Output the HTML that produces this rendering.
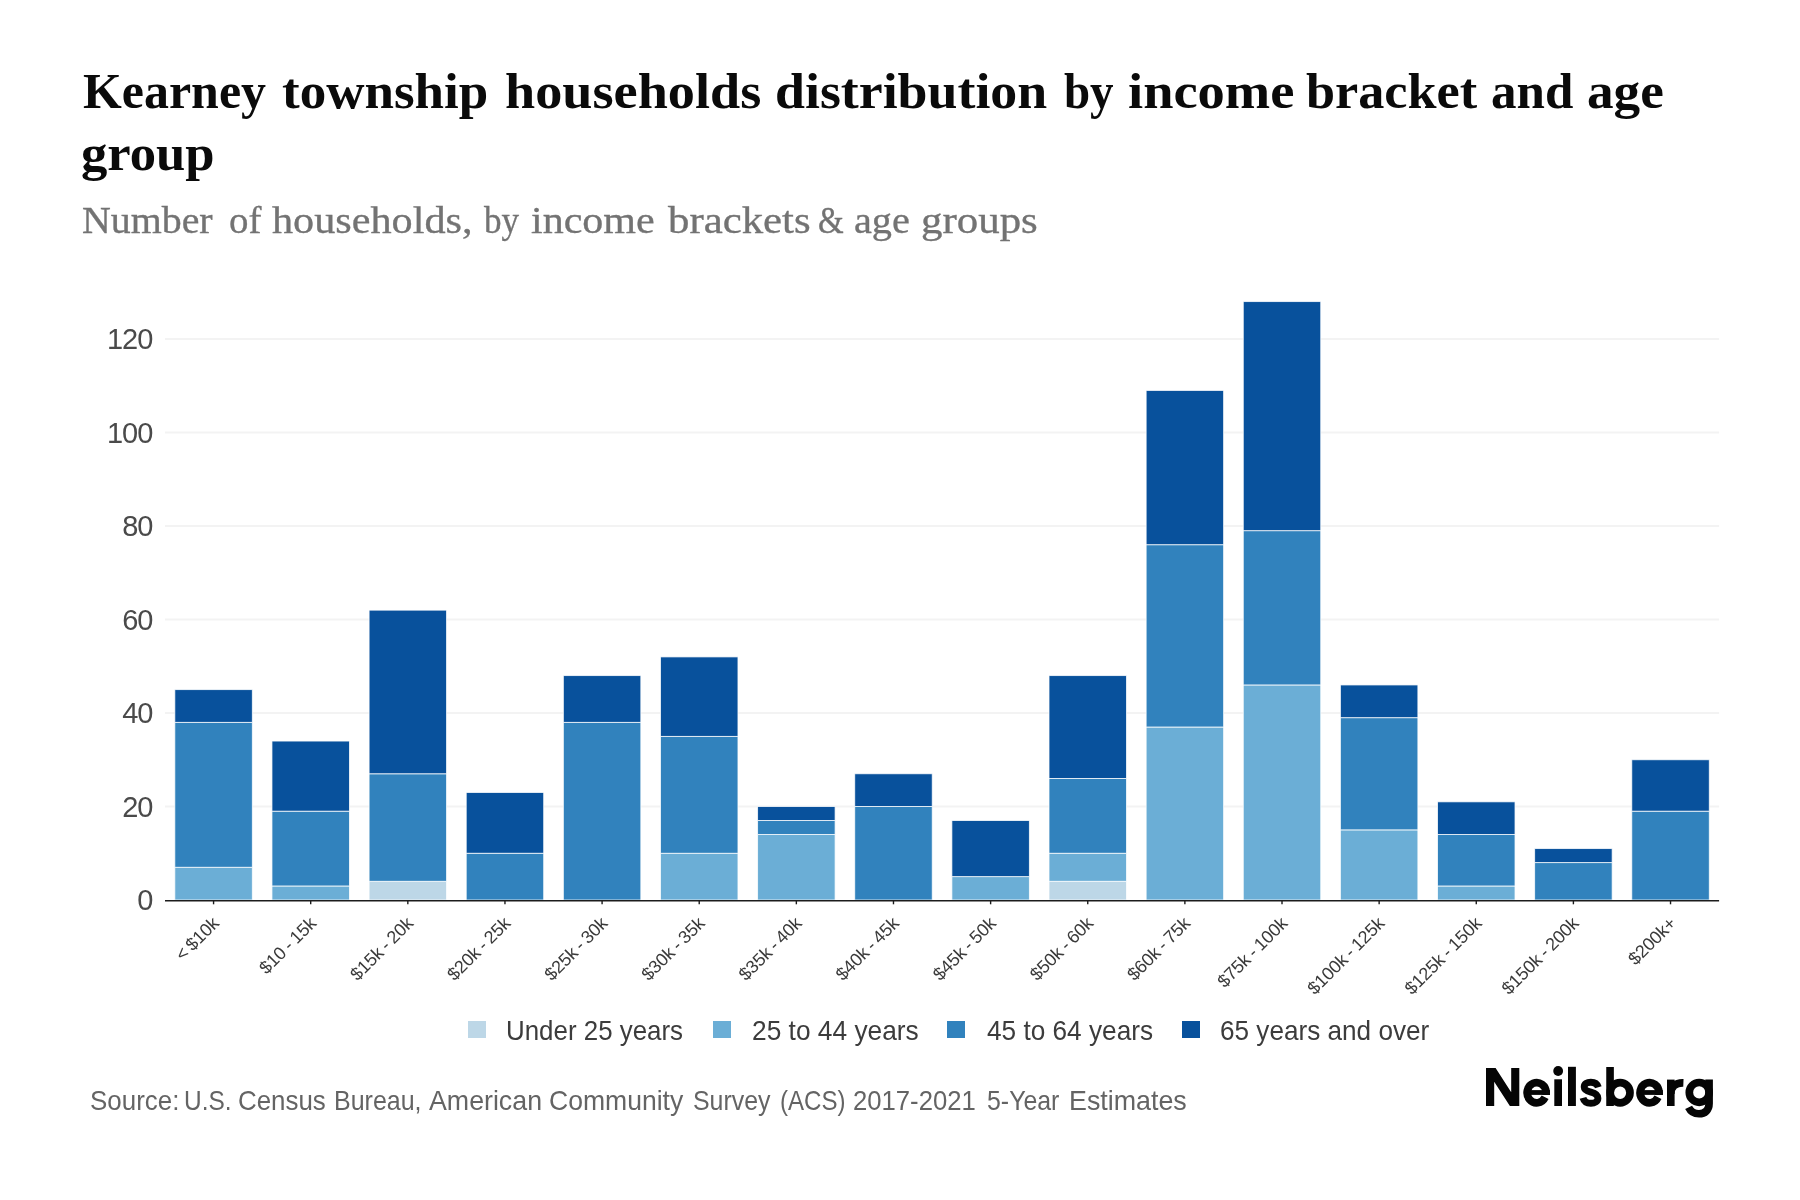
<!DOCTYPE html>
<html lang="en">
<head>
<meta charset="utf-8">
<title>Kearney township households distribution by income bracket and age group</title>
<style>
html,body{margin:0;padding:0;background:#fff;}
body{width:1800px;height:1200px;position:relative;overflow:hidden;font-family:"Liberation Sans",sans-serif;}
.title{position:absolute;left:0;top:0;margin:0;width:1800px;height:190px;font-family:"Liberation Serif",serif;font-weight:700;font-size:51px;line-height:62px;color:#0a0a0a;}
.sub{position:absolute;left:0;top:0;margin:0;width:1800px;height:260px;font-family:"Liberation Serif",serif;font-weight:400;font-size:38px;line-height:48px;color:#737373;-webkit-text-stroke:0.35px #737373;}
.w{position:absolute;white-space:nowrap;transform-origin:0 0;display:block;}
svg{position:absolute;left:0;top:0;will-change:transform;}
.title,.sub,.legend,.legtxt,.src,.logo{will-change:transform;}
.yl{font-family:"Liberation Sans",sans-serif;font-size:29px;fill:#4a4a4a;letter-spacing:-1.1px;}
.xl{font-family:"Liberation Sans",sans-serif;font-size:18px;fill:#3a3a3a;word-spacing:-1.2px;letter-spacing:-0.12px;}
.legend{position:absolute;left:0;top:1012px;width:1800px;height:36px;}
.legend .sw{position:absolute;top:9px;width:18px;height:17px;}
.src{position:absolute;left:0;top:0;width:1800px;height:1200px;font-size:28px;line-height:36px;color:#646464;}
.legtxt{position:absolute;left:0;top:0;width:1800px;height:1200px;font-size:28px;line-height:36px;color:#3c3c3c;}
.logo{position:absolute;left:1483px;top:1058px;font-weight:700;font-size:50.5px;line-height:60px;letter-spacing:0.4px;color:transparent;white-space:nowrap;}
</style>
</head>
<body>
<h1 class="title"><span class="w" style="left:82.52px;top:59.9px;transform:scaleX(0.9790)">Kearney</span> <span class="w" style="left:282.47px;top:59.9px;transform:scaleX(1.0391)">township</span> <span class="w" style="left:505.40px;top:59.9px;transform:scaleX(1.0635)">households</span> <span class="w" style="left:775.39px;top:59.9px;transform:scaleX(1.0555)">distribution</span> <span class="w" style="left:1064.08px;top:59.9px;transform:scaleX(0.9206)">by</span> <span class="w" style="left:1127.95px;top:59.9px;transform:scaleX(1.0680)">income</span> <span class="w" style="left:1306.48px;top:59.9px;transform:scaleX(1.0244)">bracket</span> <span class="w" style="left:1491.49px;top:59.9px;transform:scaleX(1.0005)">and</span> <span class="w" style="left:1587.41px;top:59.9px;transform:scaleX(1.0434)">age</span> <span class="w" style="left:81.48px;top:121.9px;transform:scaleX(1.0324)">group</span></h1>
<p class="sub"><span class="w" style="left:81.95px;top:196.2px;transform:scaleX(1.0488)">Number</span> <span class="w" style="left:228.88px;top:196.2px;transform:scaleX(1.0232)">of</span> <span class="w" style="left:271.91px;top:196.2px;transform:scaleX(1.1108)">households,</span> <span class="w" style="left:483.53px;top:196.2px;transform:scaleX(0.9232)">by</span> <span class="w" style="left:530.92px;top:196.2px;transform:scaleX(1.1055)">income</span> <span class="w" style="left:667.51px;top:196.2px;transform:scaleX(1.1270)">brackets</span> <span class="w" style="left:818.19px;top:196.2px;transform:scaleX(0.8678)">&amp;</span> <span class="w" style="left:853.74px;top:196.2px;transform:scaleX(1.0597)">age</span> <span class="w" style="left:920.85px;top:196.2px;transform:scaleX(1.1290)">groups</span></p>
<svg width="1800" height="1200" viewBox="0 0 1800 1200">
<line x1="165.0" x2="1719.1" y1="806.50" y2="806.50" stroke="#f3f3f3" stroke-width="2"/>
<line x1="165.0" x2="1719.1" y1="713.00" y2="713.00" stroke="#f3f3f3" stroke-width="2"/>
<line x1="165.0" x2="1719.1" y1="619.50" y2="619.50" stroke="#f3f3f3" stroke-width="2"/>
<line x1="165.0" x2="1719.1" y1="526.00" y2="526.00" stroke="#f3f3f3" stroke-width="2"/>
<line x1="165.0" x2="1719.1" y1="432.50" y2="432.50" stroke="#f3f3f3" stroke-width="2"/>
<line x1="165.0" x2="1719.1" y1="339.00" y2="339.00" stroke="#f3f3f3" stroke-width="2"/>
<rect x="174.82" y="867.27" width="77.5" height="32.73" fill="#6baed6" stroke="#ffffff" stroke-opacity="0.85" stroke-width="0.9"/>
<rect x="174.82" y="722.35" width="77.5" height="144.92" fill="#3182bd" stroke="#ffffff" stroke-opacity="0.85" stroke-width="0.9"/>
<rect x="174.82" y="689.62" width="77.5" height="32.73" fill="#08519c" stroke="#ffffff" stroke-opacity="0.85" stroke-width="0.9"/>
<rect x="271.95" y="885.98" width="77.5" height="14.02" fill="#6baed6" stroke="#ffffff" stroke-opacity="0.85" stroke-width="0.9"/>
<rect x="271.95" y="811.17" width="77.5" height="74.80" fill="#3182bd" stroke="#ffffff" stroke-opacity="0.85" stroke-width="0.9"/>
<rect x="271.95" y="741.05" width="77.5" height="70.12" fill="#08519c" stroke="#ffffff" stroke-opacity="0.85" stroke-width="0.9"/>
<rect x="369.08" y="881.30" width="77.5" height="18.70" fill="#bdd7e7" stroke="#ffffff" stroke-opacity="0.85" stroke-width="0.9"/>
<rect x="369.08" y="773.77" width="77.5" height="107.52" fill="#3182bd" stroke="#ffffff" stroke-opacity="0.85" stroke-width="0.9"/>
<rect x="369.08" y="610.15" width="77.5" height="163.62" fill="#08519c" stroke="#ffffff" stroke-opacity="0.85" stroke-width="0.9"/>
<rect x="466.21" y="853.25" width="77.5" height="46.75" fill="#3182bd" stroke="#ffffff" stroke-opacity="0.85" stroke-width="0.9"/>
<rect x="466.21" y="792.48" width="77.5" height="60.77" fill="#08519c" stroke="#ffffff" stroke-opacity="0.85" stroke-width="0.9"/>
<rect x="563.34" y="722.35" width="77.5" height="177.65" fill="#3182bd" stroke="#ffffff" stroke-opacity="0.85" stroke-width="0.9"/>
<rect x="563.34" y="675.60" width="77.5" height="46.75" fill="#08519c" stroke="#ffffff" stroke-opacity="0.85" stroke-width="0.9"/>
<rect x="660.47" y="853.25" width="77.5" height="46.75" fill="#6baed6" stroke="#ffffff" stroke-opacity="0.85" stroke-width="0.9"/>
<rect x="660.47" y="736.38" width="77.5" height="116.88" fill="#3182bd" stroke="#ffffff" stroke-opacity="0.85" stroke-width="0.9"/>
<rect x="660.47" y="656.90" width="77.5" height="79.48" fill="#08519c" stroke="#ffffff" stroke-opacity="0.85" stroke-width="0.9"/>
<rect x="757.60" y="834.55" width="77.5" height="65.45" fill="#6baed6" stroke="#ffffff" stroke-opacity="0.85" stroke-width="0.9"/>
<rect x="757.60" y="820.52" width="77.5" height="14.02" fill="#3182bd" stroke="#ffffff" stroke-opacity="0.85" stroke-width="0.9"/>
<rect x="757.60" y="806.50" width="77.5" height="14.02" fill="#08519c" stroke="#ffffff" stroke-opacity="0.85" stroke-width="0.9"/>
<rect x="854.73" y="806.50" width="77.5" height="93.50" fill="#3182bd" stroke="#ffffff" stroke-opacity="0.85" stroke-width="0.9"/>
<rect x="854.73" y="773.77" width="77.5" height="32.73" fill="#08519c" stroke="#ffffff" stroke-opacity="0.85" stroke-width="0.9"/>
<rect x="951.87" y="876.62" width="77.5" height="23.38" fill="#6baed6" stroke="#ffffff" stroke-opacity="0.85" stroke-width="0.9"/>
<rect x="951.87" y="820.52" width="77.5" height="56.10" fill="#08519c" stroke="#ffffff" stroke-opacity="0.85" stroke-width="0.9"/>
<rect x="1049.00" y="881.30" width="77.5" height="18.70" fill="#bdd7e7" stroke="#ffffff" stroke-opacity="0.85" stroke-width="0.9"/>
<rect x="1049.00" y="853.25" width="77.5" height="28.05" fill="#6baed6" stroke="#ffffff" stroke-opacity="0.85" stroke-width="0.9"/>
<rect x="1049.00" y="778.45" width="77.5" height="74.80" fill="#3182bd" stroke="#ffffff" stroke-opacity="0.85" stroke-width="0.9"/>
<rect x="1049.00" y="675.60" width="77.5" height="102.85" fill="#08519c" stroke="#ffffff" stroke-opacity="0.85" stroke-width="0.9"/>
<rect x="1146.13" y="727.02" width="77.5" height="172.98" fill="#6baed6" stroke="#ffffff" stroke-opacity="0.85" stroke-width="0.9"/>
<rect x="1146.13" y="544.70" width="77.5" height="182.32" fill="#3182bd" stroke="#ffffff" stroke-opacity="0.85" stroke-width="0.9"/>
<rect x="1146.13" y="390.43" width="77.5" height="154.28" fill="#08519c" stroke="#ffffff" stroke-opacity="0.85" stroke-width="0.9"/>
<rect x="1243.26" y="684.95" width="77.5" height="215.05" fill="#6baed6" stroke="#ffffff" stroke-opacity="0.85" stroke-width="0.9"/>
<rect x="1243.26" y="530.67" width="77.5" height="154.28" fill="#3182bd" stroke="#ffffff" stroke-opacity="0.85" stroke-width="0.9"/>
<rect x="1243.26" y="301.60" width="77.5" height="229.07" fill="#08519c" stroke="#ffffff" stroke-opacity="0.85" stroke-width="0.9"/>
<rect x="1340.39" y="829.88" width="77.5" height="70.12" fill="#6baed6" stroke="#ffffff" stroke-opacity="0.85" stroke-width="0.9"/>
<rect x="1340.39" y="717.67" width="77.5" height="112.20" fill="#3182bd" stroke="#ffffff" stroke-opacity="0.85" stroke-width="0.9"/>
<rect x="1340.39" y="684.95" width="77.5" height="32.72" fill="#08519c" stroke="#ffffff" stroke-opacity="0.85" stroke-width="0.9"/>
<rect x="1437.52" y="885.98" width="77.5" height="14.02" fill="#6baed6" stroke="#ffffff" stroke-opacity="0.85" stroke-width="0.9"/>
<rect x="1437.52" y="834.55" width="77.5" height="51.43" fill="#3182bd" stroke="#ffffff" stroke-opacity="0.85" stroke-width="0.9"/>
<rect x="1437.52" y="801.83" width="77.5" height="32.72" fill="#08519c" stroke="#ffffff" stroke-opacity="0.85" stroke-width="0.9"/>
<rect x="1534.65" y="862.60" width="77.5" height="37.40" fill="#3182bd" stroke="#ffffff" stroke-opacity="0.85" stroke-width="0.9"/>
<rect x="1534.65" y="848.58" width="77.5" height="14.02" fill="#08519c" stroke="#ffffff" stroke-opacity="0.85" stroke-width="0.9"/>
<rect x="1631.78" y="811.17" width="77.5" height="88.83" fill="#3182bd" stroke="#ffffff" stroke-opacity="0.85" stroke-width="0.9"/>
<rect x="1631.78" y="759.75" width="77.5" height="51.42" fill="#08519c" stroke="#ffffff" stroke-opacity="0.85" stroke-width="0.9"/>
<line x1="165.0" x2="1719.1" y1="900.75" y2="900.75" stroke="#1c1c1c" stroke-width="1.5"/>
<line x1="213.57" x2="213.57" y1="901.0" y2="904.3" stroke="#1c1c1c" stroke-width="1.4"/>
<text class="xl" transform="translate(220.07,924.50) rotate(-45)" text-anchor="end">< $10k</text>
<line x1="310.70" x2="310.70" y1="901.0" y2="904.3" stroke="#1c1c1c" stroke-width="1.4"/>
<text class="xl" transform="translate(317.20,924.50) rotate(-45)" text-anchor="end">$10 - 15k</text>
<line x1="407.83" x2="407.83" y1="901.0" y2="904.3" stroke="#1c1c1c" stroke-width="1.4"/>
<text class="xl" transform="translate(414.33,924.50) rotate(-45)" text-anchor="end">$15k - 20k</text>
<line x1="504.96" x2="504.96" y1="901.0" y2="904.3" stroke="#1c1c1c" stroke-width="1.4"/>
<text class="xl" transform="translate(511.46,924.50) rotate(-45)" text-anchor="end">$20k - 25k</text>
<line x1="602.09" x2="602.09" y1="901.0" y2="904.3" stroke="#1c1c1c" stroke-width="1.4"/>
<text class="xl" transform="translate(608.59,924.50) rotate(-45)" text-anchor="end">$25k - 30k</text>
<line x1="699.22" x2="699.22" y1="901.0" y2="904.3" stroke="#1c1c1c" stroke-width="1.4"/>
<text class="xl" transform="translate(705.72,924.50) rotate(-45)" text-anchor="end">$30k - 35k</text>
<line x1="796.35" x2="796.35" y1="901.0" y2="904.3" stroke="#1c1c1c" stroke-width="1.4"/>
<text class="xl" transform="translate(802.85,924.50) rotate(-45)" text-anchor="end">$35k - 40k</text>
<line x1="893.48" x2="893.48" y1="901.0" y2="904.3" stroke="#1c1c1c" stroke-width="1.4"/>
<text class="xl" transform="translate(899.98,924.50) rotate(-45)" text-anchor="end">$40k - 45k</text>
<line x1="990.62" x2="990.62" y1="901.0" y2="904.3" stroke="#1c1c1c" stroke-width="1.4"/>
<text class="xl" transform="translate(997.12,924.50) rotate(-45)" text-anchor="end">$45k - 50k</text>
<line x1="1087.75" x2="1087.75" y1="901.0" y2="904.3" stroke="#1c1c1c" stroke-width="1.4"/>
<text class="xl" transform="translate(1094.25,924.50) rotate(-45)" text-anchor="end">$50k - 60k</text>
<line x1="1184.88" x2="1184.88" y1="901.0" y2="904.3" stroke="#1c1c1c" stroke-width="1.4"/>
<text class="xl" transform="translate(1191.38,924.50) rotate(-45)" text-anchor="end">$60k - 75k</text>
<line x1="1282.01" x2="1282.01" y1="901.0" y2="904.3" stroke="#1c1c1c" stroke-width="1.4"/>
<text class="xl" transform="translate(1288.51,924.50) rotate(-45)" text-anchor="end">$75k - 100k</text>
<line x1="1379.14" x2="1379.14" y1="901.0" y2="904.3" stroke="#1c1c1c" stroke-width="1.4"/>
<text class="xl" transform="translate(1385.64,924.50) rotate(-45)" text-anchor="end">$100k - 125k</text>
<line x1="1476.27" x2="1476.27" y1="901.0" y2="904.3" stroke="#1c1c1c" stroke-width="1.4"/>
<text class="xl" transform="translate(1482.77,924.50) rotate(-45)" text-anchor="end">$125k - 150k</text>
<line x1="1573.40" x2="1573.40" y1="901.0" y2="904.3" stroke="#1c1c1c" stroke-width="1.4"/>
<text class="xl" transform="translate(1579.90,924.50) rotate(-45)" text-anchor="end">$150k - 200k</text>
<line x1="1670.53" x2="1670.53" y1="901.0" y2="904.3" stroke="#1c1c1c" stroke-width="1.4"/>
<text class="xl" transform="translate(1677.03,924.50) rotate(-45)" text-anchor="end">$200k+</text>
<text class="yl" x="152.2" y="910.30" text-anchor="end">0</text>
<text class="yl" x="152.2" y="816.80" text-anchor="end">20</text>
<text class="yl" x="152.2" y="723.30" text-anchor="end">40</text>
<text class="yl" x="152.2" y="629.80" text-anchor="end">60</text>
<text class="yl" x="152.2" y="536.30" text-anchor="end">80</text>
<text class="yl" x="152.2" y="442.80" text-anchor="end">100</text>
<text class="yl" x="152.2" y="349.30" text-anchor="end">120</text>
<g class="logo-mark"><path d="M1486,1106 V1068 H1495.6 L1511.2,1092.2 V1068 H1519.3 V1106 H1509.9 L1494.2,1081.8 V1106 Z" fill="#050505"/>
<path d="M1546.15,1094.90 V1092.70 A9.50,10.10 0 1 0 1545.11,1097.29" fill="none" stroke="#050505" stroke-width="7.7"/><path d="M1527.15,1092.50 H1550.00" fill="none" stroke="#050505" stroke-width="4.8"/>
<rect x="1554.3" y="1079.3" width="7.7" height="26.7" fill="#050505"/><circle cx="1558.15" cy="1071" r="4.9" fill="#050505"/>
<rect x="1568" y="1066.8" width="7.9" height="39.2" fill="#050505"/>
<path d="M1598.3,1087.2 C1597.2,1083.6 1594.3,1082.2 1590.8,1082.2 C1587,1082.2 1584.2,1084 1584.2,1086.9 C1584.2,1089.8 1586.6,1091 1590.9,1092.1 C1595.4,1093.2 1597.9,1095 1597.9,1098.3 C1597.9,1101.5 1594.9,1103.3 1590.9,1103.3 C1586.9,1103.3 1584,1101.6 1583,1097.9" fill="none" stroke="#050505" stroke-width="6.9"/>
<rect x="1606.25" y="1067" width="7.6" height="39" fill="#050505"/><ellipse cx="1620.1" cy="1092.7" rx="9.9" ry="10.15" fill="none" stroke="#050505" stroke-width="7.7"/>
<path d="M1659.05,1094.90 V1092.70 A9.50,10.10 0 1 0 1658.01,1097.29" fill="none" stroke="#050505" stroke-width="7.7"/><path d="M1640.05,1092.50 H1662.90" fill="none" stroke="#050505" stroke-width="4.8"/>
<rect x="1667" y="1079.6" width="7.6" height="26.4" fill="#050505"/><path d="M1670.8,1094 C1670.8,1086.5 1675.5,1082.6 1683.4,1082.9" fill="none" stroke="#050505" stroke-width="7.6"/>
<ellipse cx="1699.2" cy="1092.4" rx="9.9" ry="9.9" fill="none" stroke="#050505" stroke-width="7.7"/>
<path d="M1709.1,1079.6 V1103.5 C1709.1,1110.2 1705,1113.8 1699,1113.8 C1694.2,1113.8 1690.6,1111.6 1688.6,1107.4" fill="none" stroke="#050505" stroke-width="7.6"/></g>
</svg>
<div class="legend">
<span class="sw" style="left:468px;background:#bdd7e7"></span>
<span class="sw" style="left:713px;background:#6baed6"></span>
<span class="sw" style="left:947px;background:#3182bd"></span>
<span class="sw" style="left:1182px;background:#08519c"></span>
</div>
<div class="legtxt"><span class="w" style="left:506.26px;top:1012.8px;transform:scaleX(0.9249)">Under 25 years</span> <span class="w" style="left:751.75px;top:1012.8px;transform:scaleX(0.9397)">25 to 44 years</span> <span class="w" style="left:987.00px;top:1012.8px;transform:scaleX(0.9356)">45 to 64 years</span> <span class="w" style="left:1220.17px;top:1012.8px;transform:scaleX(0.9337)">65 years and over</span></div>
<div class="src"><span class="w" style="left:89.76px;top:1083.0px;transform:scaleX(0.9259)">Source:</span> <span class="w" style="left:183.79px;top:1083.0px;transform:scaleX(0.8723)">U.S.</span> <span class="w" style="left:237.96px;top:1083.0px;transform:scaleX(0.9250)">Census</span> <span class="w" style="left:333.54px;top:1083.0px;transform:scaleX(0.8922)">Bureau,</span> <span class="w" style="left:428.89px;top:1083.0px;transform:scaleX(0.9556)">American</span> <span class="w" style="left:549.05px;top:1083.0px;transform:scaleX(0.9483)">Community</span> <span class="w" style="left:692.81px;top:1083.0px;transform:scaleX(0.8895)">Survey</span> <span class="w" style="left:780.36px;top:1083.0px;transform:scaleX(0.8594)">(ACS)</span> <span class="w" style="left:853.28px;top:1083.0px;transform:scaleX(0.9167)">2017-2021</span> <span class="w" style="left:987.43px;top:1083.0px;transform:scaleX(0.8887)">5-Year</span> <span class="w" style="left:1068.70px;top:1083.0px;transform:scaleX(0.9580)">Estimates</span></div>
<div class="logo">Neilsberg</div>
</body>
</html>
